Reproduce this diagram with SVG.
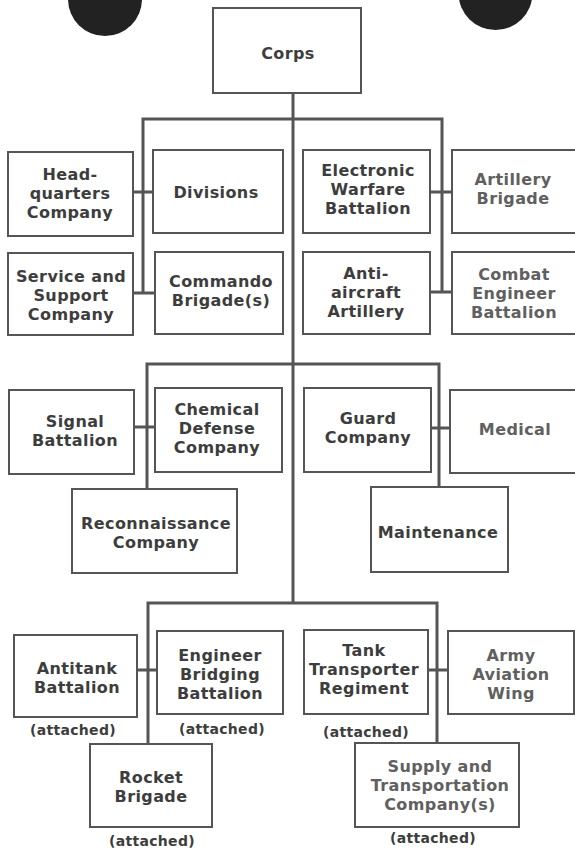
<svg xmlns="http://www.w3.org/2000/svg" width="575" height="850" viewBox="0 0 575 850">
<style>
.box{fill:#fff;stroke:#555;stroke-width:2}
.t{font-family:"DejaVu Sans",Verdana,sans-serif;font-weight:bold;font-size:16px;letter-spacing:0.4px;fill:#3d3d3d;text-anchor:middle}
.l{fill:#606060}
.a{font-size:14px;letter-spacing:0.3px}
.c{fill:none;stroke:#555;stroke-width:3}
.hole{fill:#222}
</style>
<rect width="575" height="850" fill="#fff"/>
<ellipse class="hole" cx="105" cy="-1" rx="37" ry="37"/>
<ellipse class="hole" cx="495.5" cy="-7" rx="37" ry="37"/>
<g id="connectors">
<path class="c" d="M293 93V603"/>
<path class="c" d="M143 292V119H442V292"/>
<path class="c" d="M133 192H153M133 293H155M430 192H452M430 292H452"/>
<path class="c" d="M147 489V364H439V487"/>
<path class="c" d="M134 427H155M431 428H450"/>
<path class="c" d="M148 744V603H437V743"/>
<path class="c" d="M137 670H157M428 670H448"/>
</g>
<g id="corps"><rect class="box" x="213" y="8" width="148" height="85"/><text class="t" x="288" y="59">Corps</text></g>
<g id="hq"><rect class="box" x="8" y="152" width="125" height="84"/><text class="t" x="70" y="180">Head-<tspan x="70" y="199">quarters</tspan><tspan x="70" y="218">Company</tspan></text></g>
<g id="divisions"><rect class="box" x="153" y="150" width="130" height="83"/><text class="t" x="216" y="198">Divisions</text></g>
<g id="service"><rect class="box" x="8" y="253" width="125" height="82"/><text class="t" x="71" y="282">Service and<tspan x="71" y="301">Support</tspan><tspan x="71" y="320">Company</tspan></text></g>
<g id="commando"><rect class="box" x="155" y="252" width="128" height="82"/><text class="t" x="221" y="287">Commando<tspan x="221" y="306">Brigade(s)</tspan></text></g>
<g id="ew"><rect class="box" x="303" y="150" width="127" height="83"/><text class="t" x="368" y="176">Electronic<tspan x="368" y="195">Warfare</tspan><tspan x="368" y="214">Battalion</tspan></text></g>
<g id="artillery"><rect class="box" x="452" y="150" width="124" height="83"/><text class="t l" x="513" y="185">Artillery<tspan x="513" y="204">Brigade</tspan></text></g>
<g id="aa"><rect class="box" x="303" y="252" width="127" height="82"/><text class="t" x="366" y="279">Anti-<tspan x="366" y="298">aircraft</tspan><tspan x="366" y="317">Artillery</tspan></text></g>
<g id="combat"><rect class="box" x="452" y="252" width="124" height="82"/><text class="t l" x="514" y="280">Combat<tspan x="514" y="299">Engineer</tspan><tspan x="514" y="318">Battalion</tspan></text></g>
<g id="signal"><rect class="box" x="9" y="390" width="125" height="84"/><text class="t" x="75" y="427">Signal<tspan x="75" y="446">Battalion</tspan></text></g>
<g id="chemical"><rect class="box" x="155" y="388" width="127" height="84"/><text class="t" x="217" y="415">Chemical<tspan x="217" y="434">Defense</tspan><tspan x="217" y="453">Company</tspan></text></g>
<g id="guard"><rect class="box" x="304" y="388" width="127" height="84"/><text class="t" x="368" y="424">Guard<tspan x="368" y="443">Company</tspan></text></g>
<g id="medical"><rect class="box" x="450" y="390" width="126" height="83"/><text class="t l" x="515" y="435">Medical</text></g>
<g id="recon"><rect class="box" x="72" y="489" width="165" height="84"/><text class="t" x="156" y="529">Reconnaissance<tspan x="156" y="548">Company</tspan></text></g>
<g id="maintenance"><rect class="box" x="371" y="487" width="137" height="85"/><text class="t" x="438" y="538">Maintenance</text></g>
<g id="antitank"><rect class="box" x="14" y="635" width="123" height="82"/><text class="t" x="77" y="674">Antitank<tspan x="77" y="693">Battalion</tspan></text><text class="t a" x="73" y="735">(attached)</text></g>
<g id="bridging"><rect class="box" x="157" y="631" width="126" height="83"/><text class="t" x="220" y="661">Engineer<tspan x="220" y="680">Bridging</tspan><tspan x="220" y="699">Battalion</tspan></text><text class="t a" x="222" y="734">(attached)</text></g>
<g id="tank"><rect class="box" x="304" y="630" width="124" height="84"/><text class="t" x="364" y="656">Tank<tspan x="364" y="675">Transporter</tspan><tspan x="364" y="694">Regiment</tspan></text><text class="t a" x="366" y="737">(attached)</text></g>
<g id="aviation"><rect class="box" x="448" y="631" width="126" height="83"/><text class="t l" x="511" y="661">Army<tspan x="511" y="680">Aviation</tspan><tspan x="511" y="699">Wing</tspan></text></g>
<g id="rocket"><rect class="box" x="90" y="744" width="122" height="83"/><text class="t" x="151" y="783">Rocket<tspan x="151" y="802">Brigade</tspan></text><text class="t a" x="152" y="846">(attached)</text></g>
<g id="supply"><rect class="box" x="355" y="743" width="164" height="84"/><text class="t l" x="440" y="772">Supply and<tspan x="440" y="791">Transportation</tspan><tspan x="440" y="810">Company(s)</tspan></text><text class="t a" x="433" y="843">(attached)</text></g>
</svg>
